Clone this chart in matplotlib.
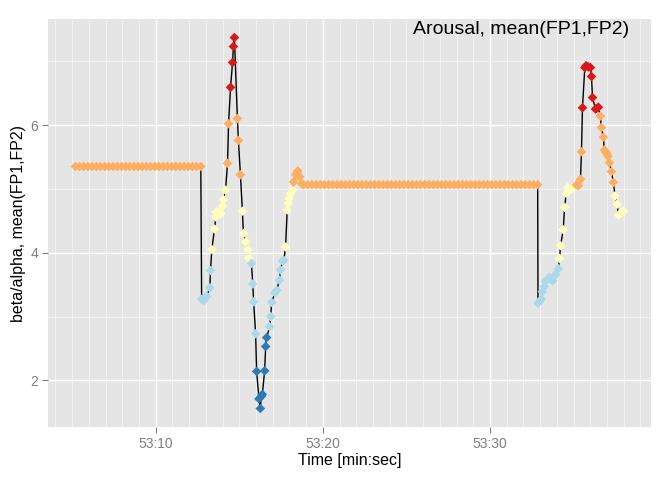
import numpy as np
import matplotlib
matplotlib.use("Agg")
import matplotlib.pyplot as plt
from matplotlib.ticker import FixedLocator, FuncFormatter, MultipleLocator

# time in seconds after 53:00, value = beta/alpha mean(FP1,FP2)
flat1_sec = [5.20, 5.45, 5.70, 5.95, 6.20, 6.45, 6.70, 6.95, 7.20, 7.45, 7.70,
             7.95, 8.20, 8.45, 8.70, 8.95, 9.20, 9.45, 9.70, 9.95, 10.20, 10.45,
             10.70, 10.95, 11.20, 11.45, 11.70, 11.95, 12.20, 12.45, 12.70]
flat1_val = 5.35

peak1_sec = [12.75, 12.88, 13.00, 13.05, 13.24, 13.28, 13.36, 13.52, 13.60, 13.64,
             13.80, 13.90, 14.00, 14.06, 14.18, 14.30, 14.36, 14.48, 14.60, 14.65,
             14.71, 14.89, 14.95, 15.07, 15.19, 15.25, 15.39, 15.51, 15.57, 15.73,
             15.81, 15.86, 15.98, 16.04, 16.18, 16.26, 16.32, 16.38, 16.52, 16.58,
             16.64, 16.82, 16.88, 16.94, 17.13, 17.24, 17.40, 17.47, 17.59, 17.67,
             17.77, 17.87, 17.93, 17.99, 18.07, 18.19, 18.25, 18.39, 18.45, 18.50,
             18.61, 18.73]
peak1_val = [3.27, 3.25, 3.30, 3.32, 3.45, 3.72, 4.05, 4.37, 4.56, 4.64,
             4.63, 4.61, 4.73, 4.83, 4.98, 5.40, 6.02, 6.59, 6.98, 7.23,
             7.37, 6.10, 5.76, 5.22, 4.65, 4.30, 4.17, 4.05, 3.92, 3.83,
             3.51, 3.23, 2.73, 2.14, 1.71, 1.56, 1.75, 1.78, 2.15, 2.53,
             2.67, 2.84, 3.00, 3.22, 3.37, 3.41, 3.57, 3.73, 3.87, 3.88,
             4.09, 4.67, 4.77, 4.85, 4.92, 4.98, 5.11, 5.22, 5.25, 5.28,
             5.19, 5.08]

flat2_sec = [18.85, 19.10, 19.35, 19.60, 19.85, 20.10, 20.35, 20.60, 20.85, 21.10,
             21.35, 21.60, 21.85, 22.10, 22.35, 22.60, 22.85, 23.10, 23.35, 23.60,
             23.85, 24.10, 24.35, 24.60, 24.85, 25.10, 25.35, 25.60, 25.85, 26.10,
             26.35, 26.60, 26.85, 27.10, 27.35, 27.60, 27.85, 28.10, 28.35, 28.60,
             28.85, 29.10, 29.35, 29.60, 29.85, 30.10, 30.35, 30.60, 30.85, 31.10,
             31.35, 31.60, 31.85, 32.10, 32.35, 32.60, 32.85]
flat2_val = 5.066

peak2_sec = [32.87, 32.97, 33.07, 33.13, 33.25, 33.31, 33.46, 33.56, 33.67, 33.74,
             33.86, 33.94, 34.08, 34.16, 34.22, 34.38, 34.46, 34.56, 34.64, 34.76,
             34.89, 35.05, 35.17, 35.29, 35.41, 35.47, 35.53, 35.67, 35.75, 35.89,
             36.01, 36.07, 36.13, 36.31, 36.38, 36.48, 36.60, 36.66, 36.78, 36.84,
             36.92, 37.00, 37.06, 37.14, 37.26, 37.38, 37.48, 37.60, 37.68, 37.80,
             37.91, 37.99]
peak2_val = [3.21, 3.24, 3.27, 3.39, 3.47, 3.55, 3.59, 3.61, 3.57, 3.56,
             3.64, 3.66, 3.75, 3.91, 4.11, 4.36, 4.71, 4.93, 5.02, 4.99,
             5.00, 5.03, 5.06, 5.05, 5.15, 5.58, 6.27, 6.90, 6.93, 6.91,
             6.90, 6.76, 6.43, 6.25, 6.26, 6.28, 6.14, 5.96, 5.81, 5.61,
             5.58, 5.55, 5.51, 5.41, 5.27, 5.10, 4.89, 4.76, 4.59, 4.61,
             4.64, 4.65]

# colour classes (RdYlBu, 5 classes) and their lower bounds
class_bounds = [2.7, 3.9, 5.04, 6.2]
class_colors = ["#2c7bb6", "#abd9e9", "#ffffbf", "#fdae61", "#d7191c"]

title_text = "Arousal, mean(FP1,FP2)"


def main():
    t = np.concatenate([flat1_sec, peak1_sec, flat2_sec, peak2_sec])
    v = np.concatenate([np.full(len(flat1_sec), flat1_val), peak1_val,
                        np.full(len(flat2_sec), flat2_val), peak2_val])
    cols = [class_colors[i] for i in np.digitize(v, class_bounds)]

    plt.rcParams['font.family'] = ['Liberation Sans', 'DejaVu Sans']
    fig = plt.figure(figsize=(6.72, 4.8), dpi=100)
    ax = fig.add_axes([48 / 672, 53 / 480, 603 / 672, 408 / 480])
    ax.set_facecolor("#e5e5e5")

    ax.plot(t, v, color="black", lw=1.0, zorder=3)
    ax.scatter(t, v, c=cols, marker="D", s=24, linewidths=0, zorder=4)

    ax.margins(x=0.05, y=0.05)

    # grid like old ggplot theme_grey
    ax.xaxis.set_major_locator(FixedLocator([10, 20, 30]))
    ax.xaxis.set_minor_locator(MultipleLocator(1))
    ax.yaxis.set_major_locator(FixedLocator([2, 4, 6]))
    ax.yaxis.set_minor_locator(FixedLocator([1, 3, 5, 7]))
    ax.xaxis.set_major_formatter(FuncFormatter(lambda x, p: "53:%02d" % x))
    ax.grid(which="major", color="white", lw=1.0, zorder=0)
    ax.grid(which="minor", color="#f2f2f2", lw=0.8, zorder=0)
    ax.set_axisbelow(True)
    for s in ax.spines.values():
        s.set_visible(False)
    ax.tick_params(which="major", length=4, width=0.8, color="#7f7f7f",
                   labelcolor="#7f7f7f", labelsize=10, pad=3)
    ax.tick_params(which="minor", length=0)

    ax.set_xlabel("Time [min:sec]", fontsize=11.5, labelpad=2)
    ax.set_ylabel("beta/alpha, mean(FP1,FP2)", fontsize=11.5, labelpad=3)
    ax.text(31.87, 7.49, title_text, fontsize=14, ha="center", va="center",
            color="black", zorder=5)

    fig.savefig("out.png", dpi=100)


if __name__ == "__main__":
    main()
